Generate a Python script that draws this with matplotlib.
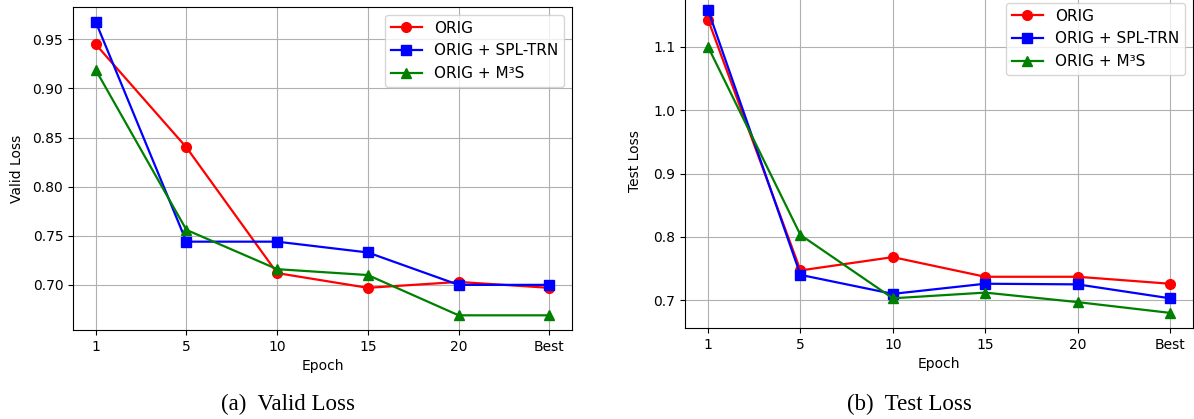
import matplotlib
matplotlib.use('Agg')
import matplotlib.pyplot as plt

epochs = ['1', '5', '10', '15', '20', 'Best']
series_names = ['ORIG', 'ORIG + SPL-TRN', 'ORIG + M³S']

valid_orig = [0.945, 0.840, 0.712, 0.697, 0.703, 0.697]
valid_spl = [0.968, 0.744, 0.744, 0.733, 0.700, 0.700]
valid_m3s = [0.919, 0.756, 0.716, 0.710, 0.669, 0.669]

test_orig = [1.143, 0.747, 0.768, 0.737, 0.737, 0.726]
test_spl = [1.158, 0.740, 0.710, 0.726, 0.725, 0.703]
test_m3s = [1.100, 0.803, 0.703, 0.712, 0.697, 0.680]

W, H = 1194, 419
fig = plt.figure(figsize=(W / 100, H / 100), dpi=100)


def box(l, t, r, b):
    return [l / W, 1 - b / H, (r - l) / W, (b - t) / H]


def panel(ax, orig, spl, m3s, ylabel, yticks, fmt, pad):
    x = range(len(epochs))
    ax.plot(x, orig, 'r-o', label=series_names[0], ms=7, lw=1.6)
    ax.plot(x, spl, 'b-s', label=series_names[1], ms=7, lw=1.6)
    ax.plot(x, m3s, 'g-^', label=series_names[2], ms=7, lw=1.6)
    ax.set_xticks(list(x))
    ax.set_xticklabels(epochs)
    ax.set_yticks(yticks)
    ax.set_yticklabels([fmt % v for v in yticks])
    ax.tick_params(labelsize=10)
    ax.set_xlabel('Epoch', fontsize=10)
    ax.set_ylabel(ylabel, fontsize=10, labelpad=pad)
    ax.grid(True)
    ax.legend(loc='upper right', fontsize=11)


ax1 = fig.add_axes(box(73, 7, 572, 330))
panel(ax1, valid_orig, valid_spl, valid_m3s, 'Valid Loss',
      [0.70, 0.75, 0.80, 0.85, 0.90, 0.95], '%.2f', 6)

ax2 = fig.add_axes(box(685, -5, 1193, 328))
panel(ax2, test_orig, test_spl, test_m3s, 'Test Loss',
      [0.7, 0.8, 0.9, 1.0, 1.1], '%.1f', 8)

fig.text(288 / W, 1 - 404 / H, '(a)  Valid Loss', ha='center', va='center',
         fontsize=16.5, family='Liberation Serif')
fig.text(909 / W, 1 - 404 / H, '(b)  Test Loss', ha='center', va='center',
         fontsize=16.5, family='Liberation Serif')

fig.savefig('out.png', dpi=100)
